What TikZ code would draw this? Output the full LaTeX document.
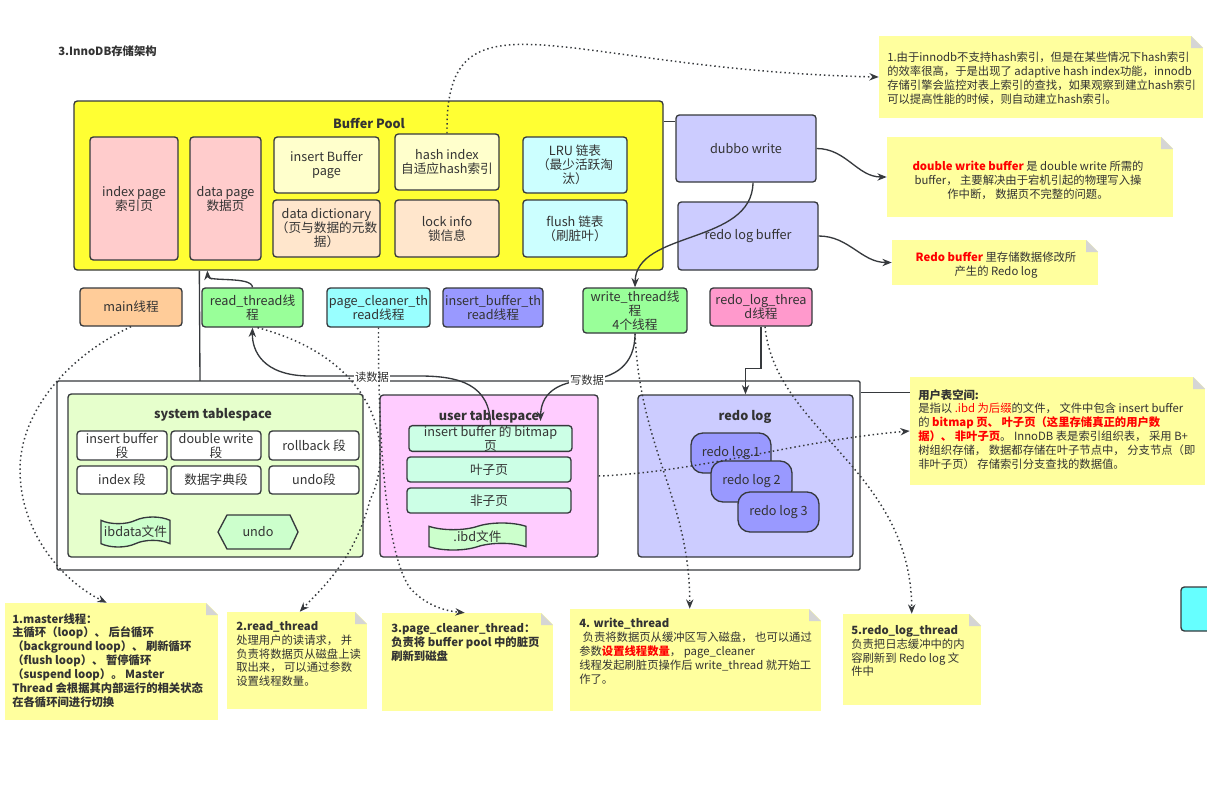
\documentclass[tikz,border=0pt]{standalone}
\usepackage{fontspec}
\setmainfont{Noto Sans CJK SC}
\usetikzlibrary{arrows.meta,calc,shapes.symbols,backgrounds}
\definecolor{ln}{HTML}{36393D}
\definecolor{tx}{HTML}{333333}
\definecolor{bpY}{HTML}{FFFF33}
\definecolor{pinkP}{HTML}{FFCCCC}
\definecolor{ltY}{HTML}{FFFFCC}
\definecolor{peach}{HTML}{FFE6CC}
\definecolor{ltC}{HTML}{CCFFFF}
\definecolor{lav}{HTML}{CCCCFF}
\definecolor{orgT}{HTML}{FFCC99}
\definecolor{grnT}{HTML}{99FF99}
\definecolor{cyaT}{HTML}{99FFFF}
\definecolor{bluT}{HTML}{9999FF}
\definecolor{pnkT}{HTML}{FF99CC}
\definecolor{sysG}{HTML}{E6FFCC}
\definecolor{usrP}{HTML}{FFCCFF}
\definecolor{mint}{HTML}{CCFFE6}
\definecolor{tapeG}{HTML}{CCFFCC}
\definecolor{noteY}{HTML}{FFFF9E}
\definecolor{foldG}{HTML}{D5D5D5}
\definecolor{cyanR}{HTML}{66FFFF}
\definecolor{redT}{HTML}{FF0000}
\newcommand\bx[8][]{\node[bxs,fill=#7,minimum width={(#4-#2)*0.75pt},minimum height={(#5-#3)*0.75pt},#1] (#6) at ({(#2+#4)/2},{(#3+#5)/2}) {#8};}
\newcommand\notebg[5]{%
 \node[notebs,minimum width={(#4-#2)*0.75pt},minimum height={(#5-#3)*0.75pt}] (#1) at ({(#2+#4)/2},{(#3+#5)/2}) {};
 \fill[white] ({#4-12},{#3-0.6}) -- ({#4+0.6},{#3-0.6}) -- ({#4+0.6},{#3+12}) -- cycle;
 \fill[foldG] ({#4-12},#3) -- ({#4-12},{#3+12}) -- (#4,{#3+12}) -- cycle;}
\begin{document}
\begin{tikzpicture}[x=0.75pt,y=-0.75pt,
 bxs/.style={draw=ln,line width=1pt,rounded corners=2.5pt,text=tx,align=center,inner sep=0pt,font=\fontsize{9.5}{10.5}\selectfont},
 btitle/.style={font=\bfseries\fontsize{9.5}{11}\selectfont,text=tx,inner sep=0pt},
 conn/.style={draw=ln,line width=1pt},
 arrowhd/.style={-{Stealth[length=7pt,width=5.5pt]}},
 dotl/.style={draw=ln,line width=1.1pt,dash pattern=on 1.1pt off 2.2pt},
 notebs/.style={fill=noteY,draw=none,inner sep=0pt,rectangle},
 ntext/.style={inner sep=0pt,align=left,text=tx,font=\fontsize{8.5}{10.4}\selectfont},
 lbl/.style={fill=white,inner sep=0.5pt,text=tx,font=\fontsize{8.5}{10}\selectfont}
]
\useasboundingbox (0,0) rectangle (1207,786);
\fill[white] (0,0) rectangle (1207,786);
\node[anchor=west,font=\bfseries\fontsize{8.5}{10}\selectfont,text=tx,inner sep=0pt] (title) at (58,51) {3.InnoDB存储架构};

% Buffer pool
\bx{74}{101}{663}{270}{bp}{bpY}{}
\node[btitle] (bpt) at (369,123) {Buffer Pool};
\bx{90}{137}{178}{260}{ip}{pinkP}{index page\\索引页}
\bx{190}{137}{261}{260}{dp}{pinkP}{data page\\数据页}
\bx{274}{137}{379}{193}{ibp}{ltY}{insert Buffer\\page}
\bx{273}{200}{380}{257}{dd}{peach}{data dictionary\\（页与数据的元数\\据）}
\bx{395}{134}{499}{190}{hi}{ltY}{hash index\\自适应hash索引}
\bx{395}{200}{499}{257}{li}{peach}{lock info\\锁信息}
\bx{523}{137}{627}{193}{lru}{ltC}{LRU 链表\\（最少活跃淘\\汰）}
\bx{523}{200}{627}{257}{fl}{ltC}{flush 链表\\（刷脏叶）}

\bx{676}{115}{816}{182}{dw}{lav}{dubbo write}
\bx{678}{202}{818}{270}{rlb}{lav}{redo log buffer}

% threads
\bx{80}{288}{182}{326}{mainT}{orgT}{main线程}
\bx{202}{288}{303}{327}{readT}{grnT}{read\_thread线\\程}
\bx{327}{288}{430}{327}{pcT}{cyaT}{page\_cleaner\_th\\read线程}
\bx{443}{288}{543}{327}{ibT}{bluT}{insert\_buffer\_th\\read线程}
\bx{583}{288}{687}{333}{wT}{grnT}{write\_thread线\\程\\4个线程}
\bx{710}{288}{812}{326}{rlT}{pnkT}{redo\_log\_threa\\d线程}

\draw[conn] ($(bp.south west)+(126,0)$) -- (200,381);

% container
\bx[rounded corners=1pt]{57}{381}{860}{570}{outer}{white}{}

% system tablespace
\bx{68}{394}{363}{557}{sys}{sysG}{}
\node[btitle] (syst) at (213,415) {system tablespace};
\bx{77}{431}{167}{460}{s1}{white}{insert buffer\\段}
\bx{171}{431}{261}{460}{s2}{white}{double write\\段}
\bx{269}{431}{359}{460}{s3}{white}{rollback 段}
\bx{77}{466}{167}{494}{s4}{white}{index 段}
\bx{171}{466}{261}{494}{s5}{white}{数据字典段}
\bx{269}{466}{359}{494}{s6}{white}{undo段}
\node[tape,draw=ln,line width=1pt,fill=tapeG,text=tx,minimum width=51.75pt,minimum height=22.5pt,inner sep=0pt,tape bend height=5pt,font=\fontsize{9.5}{10.5}\selectfont] (ibdata) at (135.5,532) {ibdata文件};
\draw[draw=ln,line width=1pt,fill=tapeG] (218,532) -- (227,515) -- (290,515) -- (298,532) -- (290,549) -- (227,549) -- cycle;
\node[text=tx,inner sep=0pt,font=\fontsize{9.5}{10.5}\selectfont] (undoH) at (258,532) {undo};

% user tablespace
\bx{380}{395}{598}{557}{uts}{usrP}{}
\node[btitle] (utsT) at (489,417) {user tablespace};
\bx{409}{426}{572}{451}{bm}{mint}{insert buffer 的 bitmap\\页}
\bx{407}{457}{571}{482}{leaf}{mint}{叶子页}
\bx{407}{488}{571}{513}{nonleaf}{mint}{非子页}
\node[tape,draw=ln,line width=1pt,fill=tapeG,text=tx,minimum width=72.75pt,minimum height=20.25pt,inner sep=0pt,tape bend height=5pt,font=\fontsize{9.5}{10.5}\selectfont] (ibdf) at (477.5,536.5) {.ibd文件};

% redo log
\bx{638}{395}{853}{557}{rl}{lav}{}
\node[btitle] (rlTitle) at (745,417) {redo log};
\bx[rounded corners=9pt]{691}{433}{771}{473}{r1}{bluT}{redo log 1}
\bx[rounded corners=9pt]{711}{461}{792}{502}{r2}{bluT}{redo log 2}
\bx[rounded corners=9pt]{738}{492}{819}{532}{r3}{bluT}{redo log 3}

\bx{1181}{587}{1232}{631}{cyanbox}{cyanR}{}

% notes
\notebg{n1}{879}{36}{1203}{118}
\notebg{ndw}{887}{137}{1173}{217}
\notebg{nrb}{892}{240}{1098}{285}
\notebg{nut}{910}{377}{1205}{485}
\notebg{nm}{5}{603}{218}{720}
\notebg{nr}{227}{612}{367}{709}
\notebg{npc}{382}{613}{553}{711}
\notebg{nw}{570}{609}{821}{711}
\notebg{nrl}{843}{614}{981}{705}

\node[ntext,anchor=north west] (n1t) at (887,52) {1.由于innodb不支持hash索引，但是在某些情况下hash索引\\的效率很高，于是出现了 adaptive hash index功能，innodb\\存储引擎会监控对表上索引的查找，如果观察到建立hash索引\\可以提高性能的时候，则自动建立hash索引。};
\node[ntext,align=center] (ndwt) at (1028,180) {\textcolor{redT}{\textbf{double write buffer}} 是 double write 所需的\\buffer， 主要解决由于宕机引起的物理写入操\\作中断， 数据页不完整的问题。};
\node[ntext,align=center] (nrbt) at (996,265) {\textcolor{redT}{\textbf{Redo buffer}} 里存储数据修改所\\产生的 Redo log};
\node[ntext,anchor=north west] (nutt) at (918,389) {\textbf{用户表空间:}\\是指以 \textcolor{redT}{.ibd 为后缀}的文件， 文件中包含 insert buffer\\的 \textcolor{redT}{\textbf{bitmap 页、 叶子页（这里存储真正的用户数}}\\\textcolor{redT}{\textbf{据）、 非叶子页}}。 InnoDB 表是索引组织表， 采用 B+\\树组织存储， 数据都存储在叶子节点中， 分支节点（即\\非叶子页） 存储索引分支查找的数据值。};
\node[ntext,anchor=north west,font=\bfseries\fontsize{8.5}{10.4}\selectfont] (nmt) at (12,613) {1.master线程：\\主循环（loop）、 后台循环\\（background loop）、 刷新循环\\（flush loop）、 暂停循环\\（suspend loop）。 Master\\Thread 会根据其内部运行的相关状态\\在各循环间进行切换};
\node[ntext,anchor=north west] (nrt) at (236,621) {\textbf{2.read\_thread}\\处理用户的读请求， 并\\负责将数据页从磁盘上读\\取出来， 可以通过参数\\设置线程数量。};
\node[ntext,anchor=north west,font=\bfseries\fontsize{8.5}{10.4}\selectfont] (npct) at (391,623) {3.page\_cleaner\_thread：\\负责将 buffer pool 中的脏页\\刷新到磁盘};
\node[ntext,anchor=north west] (nwt) at (579,618) {\textbf{4. write\_thread}\\\hspace*{0.3em}负责将数据页从缓冲区写入磁盘， 也可以通过\\参数\textcolor{redT}{\textbf{设置线程数量}}， page\_cleaner\\线程发起刷脏页操作后 write\_thread 就开始工\\作了。};
\node[ntext,anchor=north west] (nrlt) at (851,625) {\textbf{5.redo\_log\_thread}\\负责把日志缓冲中的内\\容刷新到 Redo log 文\\件中};

% lines behind notes
\begin{pgfonlayer}{background}
\coordinate (dwR) at ($(dw.north east)+(0,8)$);
\draw[conn] (dwR) -| ($(nut.north west)+(92,0)$);
\end{pgfonlayer}

% connectors
\coordinate (bpR) at ($(bp.north east)+(0,21)$);
\draw[conn] (bpR) -- (bpR -| dw.west);
\coordinate (outR) at ($(outer.north east)+(0,12)$);
\draw[conn] (outR) -- (outR -| nut.west);
\draw[conn,arrowhd] (dw.east) to[out=0,in=180] (ndw.west);
\draw[conn,arrowhd] (rlb.east) to[out=0,in=180] (nrb.west);
\draw[conn,arrowhd] ($(dw.south)+(7,0)$) .. controls (752,245) and (636,230) .. (wT.north);
\draw[conn,arrowhd] (readT.north) .. controls (252,276) and (208,282) .. ($(bp.south west)+(134,0)$);
\draw[conn,arrowhd] (bm.north) .. controls (490,385) and (460,376) .. (420,376) -- (310,376) .. controls (262,376) and (252,350) .. (readT.south);
\node[lbl] (rdlbl) at (372,377) {读数据};
\draw[conn,arrowhd] (wT.south) .. controls (635,365) and (615,378) .. (587,380) .. controls (555,382) and (541,395) .. ($(bm.north)+(50,-4)$);
\node[lbl] (wrlbl) at (587,380) {写数据};
\draw[conn,arrowhd] (rlT.south) -- ++(0,42) -| (rl.north);

% dotted
\draw[dotl,arrowhd] (hi.north) .. controls (445,-20) and (560,70) .. (n1.west);
\draw[dotl,arrowhd] (mainT.south) .. controls (70,355) and (20,410) .. (20,470) .. controls (20,530) and (60,580) .. ($(nm.north west)+(102,0)$);
\draw[dotl,arrowhd] ($(readT.south)+(5,0)$) .. controls (380,360) and (395,450) .. (370,500) .. controls (355,560) and (320,590) .. ($(nr.north west)+(73,0)$);
\draw[dotl,arrowhd] (pcT.south) .. controls (378,470) and (390,560) .. (410,588) .. controls (425,605) and (445,611) .. ($(npc.north west)+(83,0)$);
\draw[dotl,arrowhd] (wT.south) .. controls (640,450) and (690,500) .. ($(nw.north west)+(120,0)$);
\draw[dotl,arrowhd] ($(rlT.south)+(4,0)$) .. controls (775,430) and (911,470) .. ($(nrl.north west)+(69,0)$);
\draw[dotl,arrowhd] (uts.east) .. controls (700,472) and (800,440) .. (nut.west);
\end{tikzpicture}
\end{document}
